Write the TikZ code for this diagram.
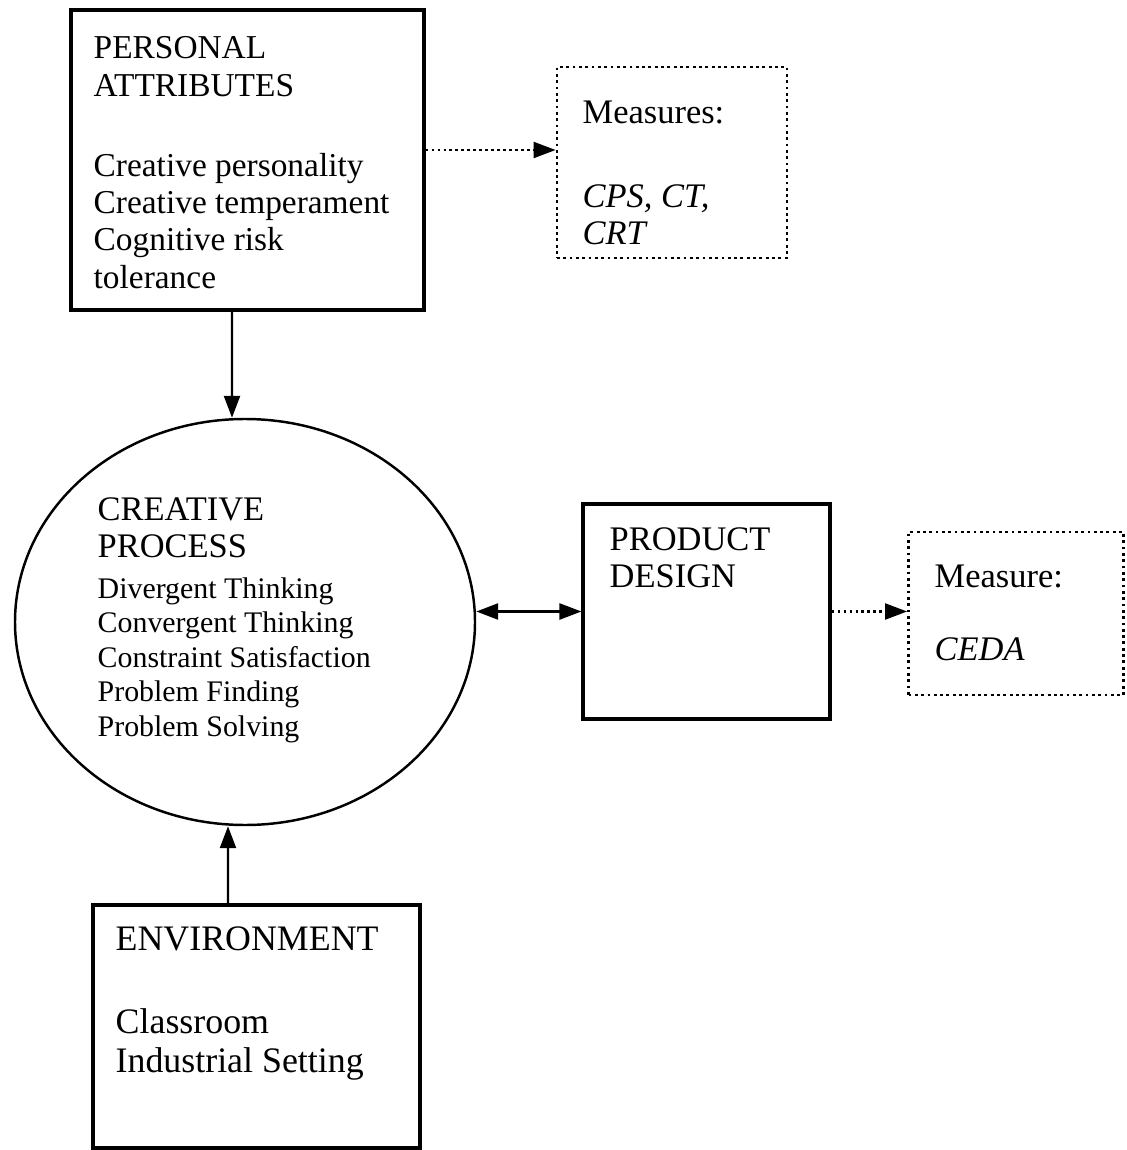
\documentclass[tikz,border=0pt]{standalone}
\usepackage{fontspec}
\setmainfont{Liberation Serif}
\usetikzlibrary{arrows.meta,shapes.geometric}

\tikzset{
  box/.style={draw,line width=0.9pt,inner sep=0pt},
  measbox/.style={draw,densely dotted,line width=0.8pt,inner sep=0pt},
  txt/.style={anchor=north west,inner sep=0pt,align=left,font=\fontsize{9.8}{10.6}\selectfont},
  smalltxt/.style={txt,font=\fontsize{8.5}{9.8}\selectfont},
  arr/.style={line width=0.7pt,-{Triangle[length=0.22cm,width=0.16cm]}},
  dblarr/.style={line width=0.7pt,{Triangle[length=0.22cm,width=0.16cm]}-{Triangle[length=0.22cm,width=0.16cm]}},
  dotarr/.style={arr,densely dotted,line width=0.6pt}
}

\begin{document}
\begin{tikzpicture}
  \useasboundingbox (0,0) rectangle (11.27,-11.5);

  \node[box,minimum width=3.53cm,minimum height=3cm] (pers) at (2.475,-1.6) {};
  \node[measbox,minimum width=2.3cm,minimum height=1.91cm] (meas) at (6.72,-1.625) {};
  \node[ellipse,draw,line width=0.7pt,inner sep=0pt,
    minimum width=4.6cm,minimum height=4.06cm] (proc) at (2.45,-6.22) {};
  \node[box,minimum width=2.47cm,minimum height=2.15cm] (prod) at (7.065,-6.115) {};
  \node[measbox,minimum width=2.15cm,minimum height=1.63cm] (meas2) at (10.16,-6.135) {};
  \node[box,minimum width=3.27cm,minimum height=2.43cm] (env) at (2.565,-10.265) {};

  \node[txt,font=\fontsize{9.5}{10.6}\selectfont] (perstext) at (0.93,-0.36)
    {PERSONAL\\ATTRIBUTES\\[0.43cm]Creative personality\\
    Creative temperament\\Cognitive risk\\tolerance};
  \node[txt] (meastext) at (5.82,-1.0) {Measures:\\[0.47cm]\textit{CPS, CT,}\\\textit{CRT}};
  \node[txt] (proctitle) at (0.97,-4.97) {CREATIVE\\PROCESS};
  \node[smalltxt] (proclist) at (0.97,-5.77) {Divergent Thinking\\Convergent Thinking\\
    Constraint Satisfaction\\Problem Finding\\Problem Solving};
  \node[txt] (prodtext) at (6.09,-5.27) {PRODUCT\\DESIGN};
  \node[txt] (meas2text) at (9.34,-5.64) {Measure:\\[0.36cm]\textit{CEDA}};
  \node[txt,font=\fontsize{10.2}{11.3}\selectfont] (envtext) at (1.15,-9.26)
    {ENVIRONMENT\\[0.43cm]Classroom\\Industrial Setting};

  \draw[arr] ([xshift=-0.155cm]pers.south) -- ([xshift=-0.13cm]proc.north);
  \draw[arr] ([xshift=-0.285cm]env.north) -- ([xshift=-0.17cm]proc.south);
  \draw[dblarr] (proc.east |- prod.west) -- (prod.west);
  \draw[dotarr] ([yshift=0.1cm]pers.east) -- ([yshift=0.1cm]pers.east -| meas.west);
  \draw[dotarr] (prod.east) -- (prod.east -| meas2.west);
\end{tikzpicture}
\end{document}
